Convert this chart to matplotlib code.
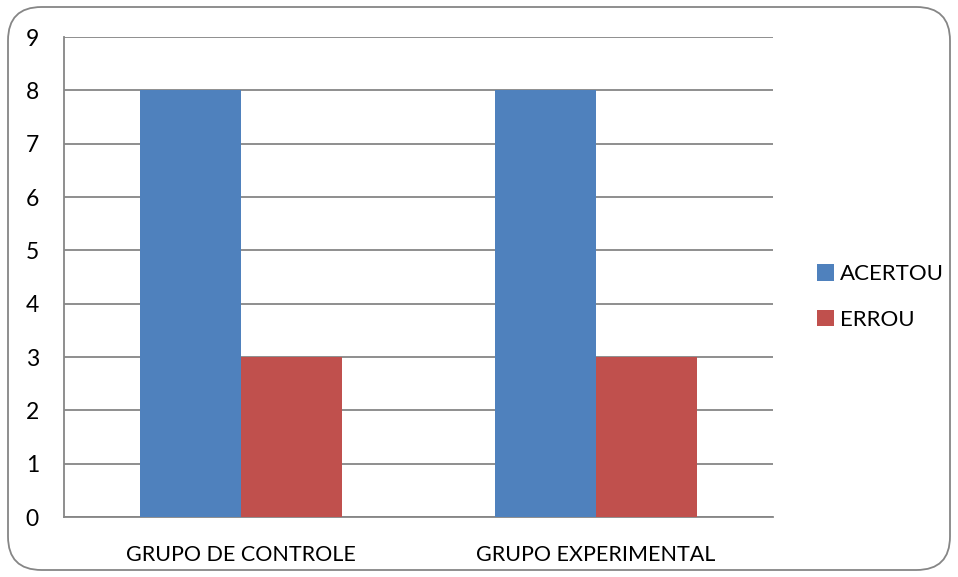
import matplotlib.pyplot as plt
from matplotlib.patches import FancyBboxPatch, Patch

categories = ["GRUPO DE CONTROLE", "GRUPO EXPERIMENTAL"]
acertou = [8, 8]
errou = [3, 3]
series_names = ["ACERTOU", "ERROU"]
yticks = list(range(0, 10))

blue = "#4F81BD"
red = "#C0504D"
grid = "#868686"

plt.rcParams["font.family"] = ["Lato", "DejaVu Sans"]

fig = plt.figure(figsize=(9.58, 5.77), dpi=100)
fig.patch.set_facecolor("white")

# rounded chart border
border = FancyBboxPatch((8 / 958, 7 / 577), 942 / 958, 563 / 577,
                        boxstyle="round,pad=0,rounding_size=0.035",
                        transform=fig.transFigure, facecolor="none",
                        edgecolor="#868686", linewidth=1.3, mutation_aspect=958 / 577)
fig.patches.append(border)

ax = fig.add_axes([64 / 958, 60 / 577, 709 / 958, 480 / 577])
centers = [0.5 + i for i in range(len(categories))]
w = 0.285
ax.bar([c - w / 2 for c in centers], acertou, width=w, color=blue, zorder=3)
ax.bar([c + w / 2 for c in centers], errou, width=w, color=red, zorder=3)

ax.set_xlim(0, len(categories))
ax.set_ylim(0, 9)
ax.set_yticks(yticks)
ax.set_yticklabels([str(t) for t in yticks], fontsize=16.5)
ax.set_xticks(centers)
ax.set_xticklabels(categories, fontsize=15.5)
ax.tick_params(axis="both", length=0)
ax.tick_params(axis="y", pad=18)
ax.tick_params(axis="x", pad=20)
ax.yaxis.grid(True, color=grid, linewidth=1.3, zorder=0)
for s in ["top", "right"]:
    ax.spines[s].set_visible(False)
for s in ["left", "bottom"]:
    ax.spines[s].set_color(grid)
    ax.spines[s].set_linewidth(1.3)

handles = [Patch(facecolor=blue), Patch(facecolor=red)]
fig.legend(handles, series_names, loc="center left",
           bbox_to_anchor=(797 / 958, 1 - 297 / 577), frameon=False,
           fontsize=16, handlelength=0.75, handleheight=0.75,
           handletextpad=0.3, labelspacing=1.15)

fig.savefig("out.png", dpi=100)
